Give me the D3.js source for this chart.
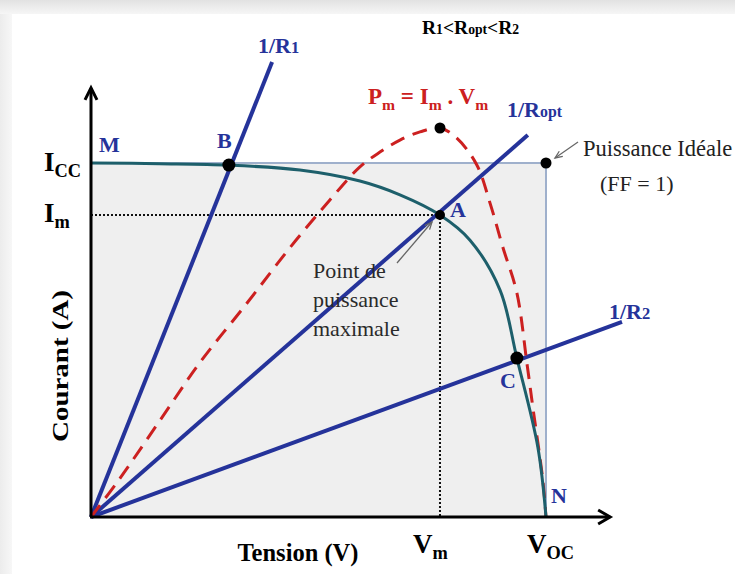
<!DOCTYPE html>
<html>
<head>
<meta charset="utf-8">
<script src="https://cdn.jsdelivr.net/npm/d3@7"></script>
<style>
  body { margin: 0; background: #fff; }
</style>
</head>
<body>
<svg id="chart" width="735" height="574"></svg>
<script>
// I-V curve of the cell (normalised: Voc = 1, Icc = 1)
const ivVoltage = [0, 0.15, 0.303, 0.459, 0.591, 0.679, 0.767, 0.833, 0.899, 0.936, 0.982, 1];
const ivCurrent = [1, 0.998, 0.994, 0.980, 0.949, 0.910, 0.853, 0.782, 0.641, 0.449, 0.198, 0];

// power curve P = I.V (normalised: Pm = 1)
const powerVoltage = [0, 0.064, 0.152, 0.240, 0.343, 0.437, 0.525, 0.591, 0.635, 0.679, 0.723, 0.767, 0.804, 0.848, 0.877, 0.905, 0.936, 0.958, 0.971, 0.993, 1];
const powerValue = [0, 0.100, 0.249, 0.398, 0.550, 0.692, 0.815, 0.900, 0.938, 0.969, 0.990, 1, 0.974, 0.905, 0.807, 0.694, 0.576, 0.396, 0.283, 0.095, 0];

// load lines 1/R, drawn from the origin to these end points
const loadNames = ['1/R1', '1/Ropt', '1/R2'];
const loadEndV = [0.398, 0.960, 1.167];
const loadEndI = [1.285, 1.079, 0.551];

// operating points
const pointNames = ['B', 'A', 'C'];
const pointV = [0.303, 0.767, 0.936];
const pointI = [0.994, 0.853, 0.449];

const vm = 0.767, im = 0.853;
const axisMaxV = 1.141, axisMaxI = 1.212;

const navy = '#25339a';
const teal = '#1d5f6b';
const red = '#cc2020';
const serif = '"Liberation Serif", "Times New Roman", serif';

const svg = d3.select('#chart');

// soft frame of the picture (shadow top and left)
const defs = svg.append('defs');
const gTop = defs.append('linearGradient').attr('id', 'gTop').attr('x1', 0).attr('y1', 0).attr('x2', 0).attr('y2', 1);
gTop.append('stop').attr('offset', 0).attr('stop-color', '#e2e2e2');
gTop.append('stop').attr('offset', 1).attr('stop-color', '#f6f6f6');
const gLeft = defs.append('linearGradient').attr('id', 'gLeft').attr('x1', 0).attr('y1', 0).attr('x2', 1).attr('y2', 0);
gLeft.append('stop').attr('offset', 0).attr('stop-color', '#ececec');
gLeft.append('stop').attr('offset', 1).attr('stop-color', '#f7f7f7');
svg.append('rect').attr('width', 735).attr('height', 14).attr('fill', 'url(#gTop)');
svg.append('rect').attr('y', 14).attr('width', 12).attr('height', 560).attr('fill', 'url(#gLeft)');

const x = d3.scaleLinear().domain([0, 1]).range([91, 546]);
const y = d3.scaleLinear().domain([0, 1]).range([517, 163]);
const yP = d3.scaleLinear().domain([0, 1]).range([517, 128]);

// ideal power rectangle
svg.append('rect')
  .attr('x', x(0)).attr('y', y(1))
  .attr('width', x(1) - x(0)).attr('height', y(0) - y(1))
  .attr('fill', '#efefef');
svg.append('path')
  .attr('d', `M${x(0)},${y(1)}H${x(1)}V${y(0)}`)
  .attr('fill', 'none').attr('stroke', '#9fb0cc').attr('stroke-width', 2);

// dotted guides for Im and Vm
svg.append('path')
  .attr('d', `M${x(0)},${y(im)}H${x(vm)}V${y(0)}`)
  .attr('fill', 'none').attr('stroke', '#111').attr('stroke-width', 2)
  .attr('stroke-dasharray', '2,2');

// load lines
loadNames.forEach((n, i) => {
  svg.append('line')
    .attr('x1', x(0)).attr('y1', y(0))
    .attr('x2', x(loadEndV[i])).attr('y2', y(loadEndI[i]))
    .attr('stroke', navy).attr('stroke-width', 4);
});

// power curve
const powerLine = d3.line()
  .x((d, i) => x(powerVoltage[i]))
  .y((d, i) => yP(d))
  .curve(d3.curveCatmullRom.alpha(0.5));
svg.append('path')
  .attr('d', powerLine(powerValue))
  .attr('fill', 'none').attr('stroke', red).attr('stroke-width', 3)
  .attr('stroke-dasharray', '15,9');

// I-V curve
const ivLine = d3.line()
  .x((d, i) => x(ivVoltage[i]))
  .y((d, i) => y(d))
  .curve(d3.curveCatmullRom.alpha(0.5));
svg.append('path')
  .attr('d', ivLine(ivCurrent))
  .attr('fill', 'none').attr('stroke', teal).attr('stroke-width', 3);

// axes with open arrow heads
svg.append('line')
  .attr('x1', x(0)).attr('y1', y(0)).attr('x2', x(0)).attr('y2', y(axisMaxI))
  .attr('stroke', '#000').attr('stroke-width', 3);
svg.append('line')
  .attr('x1', x(0) - 1).attr('y1', y(0)).attr('x2', x(axisMaxV)).attr('y2', y(0))
  .attr('stroke', '#000').attr('stroke-width', 3);
svg.append('path')
  .attr('d', `M${x(0) - 6},${y(axisMaxI) + 12}L${x(0)},${y(axisMaxI)}L${x(0) + 6},${y(axisMaxI) + 12}`)
  .attr('fill', 'none').attr('stroke', '#000').attr('stroke-width', 3);
svg.append('path')
  .attr('d', `M${x(axisMaxV) - 12},${y(0) - 7}L${x(axisMaxV)},${y(0)}L${x(axisMaxV) - 12},${y(0) + 7}`)
  .attr('fill', 'none').attr('stroke', '#000').attr('stroke-width', 3);

// operating points
pointNames.forEach((n, i) => {
  svg.append('circle')
    .attr('cx', x(pointV[i])).attr('cy', y(pointI[i]))
    .attr('r', n === 'A' ? 5 : 6.5).attr('fill', '#000');
});
svg.append('circle').attr('cx', x(vm)).attr('cy', yP(1)).attr('r', 5.5).attr('fill', '#000');
svg.append('circle').attr('cx', x(1)).attr('cy', y(1)).attr('r', 5.5).attr('fill', '#000');

// helper for text with subscripts
function label(px, py, parts, opts) {
  const t = svg.append('text')
    .attr('x', px).attr('y', py)
    .style('font-family', serif)
    .attr('fill', opts.color || '#000')
    .attr('font-size', opts.size)
    .attr('font-weight', opts.weight || 'bold')
    .attr('text-anchor', opts.anchor || 'start');
  parts.forEach(p => {
    const s = t.append('tspan').text(p[0]);
    if (p[1] !== undefined) s.attr('font-size', opts.size * (p[2] || 0.68)).attr('baseline-shift', p[1]);
  });
  return t;
}

// axis labels
label(61, 373, [['Courant (A)']], { size: 23, anchor: 'middle' })
  .attr('textLength', 152).attr('lengthAdjust', 'spacingAndGlyphs')
  .attr('transform', 'rotate(-90,61,366)');
label(298, 561, [['Tension (V)']], { size: 24.5, anchor: 'middle' });

label(44, 171, [['I'], ['CC', -6]], { size: 27 });
label(44, 222, [['I'], ['m', -6]], { size: 27 });
label(413, 553, [['V'], ['m', -6]], { size: 27 });
label(527, 553, [['V'], ['OC', -6]], { size: 27 });

// point letters
label(99, 152, [['M']], { size: 22, color: navy });
label(217, 148, [['B']], { size: 22, color: navy });
label(450, 217, [['A']], { size: 22, color: navy });
label(500, 388, [['C']], { size: 22, color: navy });
label(551, 503, [['N']], { size: 22, color: navy });

// load line labels
label(258, 53, [['1/R'], ['1', 0, 0.75]], { size: 22, color: navy });
label(507, 117, [['1/R'], ['opt', 0, 0.72]], { size: 22, color: navy });
label(609, 319, [['1/R'], ['2', 0, 0.75]], { size: 22, color: navy });

label(422, 34, [['R'], ['1', 0, 0.7], ['<R'], ['opt', 0, 0.7], ['<R'], ['2', 0, 0.7]], { size: 19.5 });

label(368, 104, [['P'], ['m', -6], [' = I'], ['m', -6], [' . V'], ['m', -6]], { size: 23, color: red });

// annotations
label(583, 156, [['Puissance Idéale']], { size: 22.5, weight: 'normal', color: '#222' });
label(600, 191, [['(FF = 1)']], { size: 22, weight: 'normal', color: '#222' });
label(313, 278, [['Point de']], { size: 22, weight: 'normal', color: '#2a2a2a' });
label(313, 307, [['puissance']], { size: 22, weight: 'normal', color: '#2a2a2a' });
label(313, 336, [['maximale']], { size: 22, weight: 'normal', color: '#2a2a2a' });

// small pointer arrows
function pointer(x1, y1, x2, y2) {
  svg.append('line').attr('x1', x1).attr('y1', y1).attr('x2', x2).attr('y2', y2)
    .attr('stroke', '#666').attr('stroke-width', 1.3);
  const a = Math.atan2(y2 - y1, x2 - x1);
  const h = 8;
  const p1 = [x2 - h * Math.cos(a - 0.4), y2 - h * Math.sin(a - 0.4)];
  const p2 = [x2 - h * Math.cos(a + 0.4), y2 - h * Math.sin(a + 0.4)];
  svg.append('path').attr('d', `M${p1}L${x2},${y2}L${p2}`)
    .attr('fill', 'none').attr('stroke', '#666').attr('stroke-width', 1.3);
}
pointer(578, 142, 555, 158);
pointer(397, 263, 432, 222);
</script>
</body>
</html>
